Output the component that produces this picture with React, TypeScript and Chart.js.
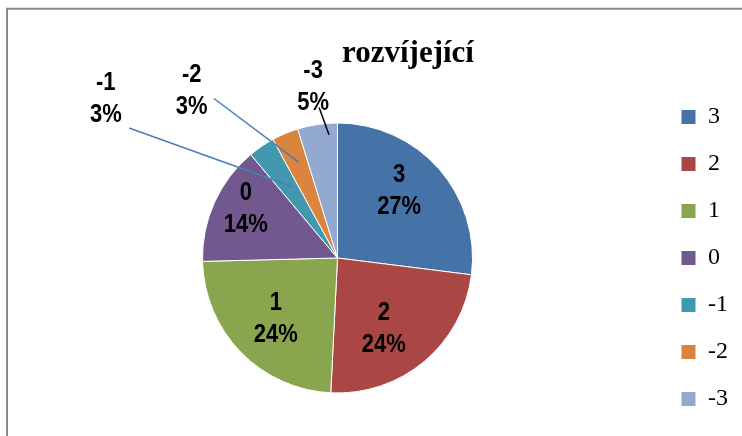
import { useEffect, useRef } from "react";
import { Chart, registerables } from "chart.js";

Chart.register(...registerables);

const TITLE = "rozvíjející";
const CATEGORIES = ["3", "2", "1", "0", "-1", "-2", "-3"];
const COUNTS = [17, 15, 15, 9, 2, 2, 3];
const COLORS = ["#4572A7", "#AA4643", "#89A54E", "#71588F", "#4198AF", "#DB843D", "#93A9CF"];

// label placement relative to each slice: fraction along the slice's angle span, distance in radii
const LABEL_FRAC = [0.439, 0.579, 0.495, 0.572, -1.365, -1.105, 0.527];
const LABEL_DIST = [0.674, 0.627, 0.643, 0.769, 2.08, 1.64, 1.281];
// leader lines: start offset from label centre, end point inside slice
const LEADERS: (null | { dx: number; dy: number; frac: number; dist: number; color: string })[] = [
  null,
  null,
  null,
  null,
  { dx: 23.3, dy: 28.7, frac: 0.7, dist: 0.62, color: "#4A7EBB" },
  { dx: 22.3, dy: 7.1, frac: 0.57, dist: 0.767, color: "#4A7EBB" },
  { dx: 6, dy: 20.8, frac: 0.77, dist: 0.916, color: "#000000" },
];

const framePlugin = {
  id: "frame",
  beforeDraw(chart: any) {
    const ctx = chart.ctx;
    ctx.save();
    ctx.fillStyle = "#ffffff";
    ctx.fillRect(0, 0, chart.width, chart.height);
    ctx.strokeStyle = "#8a8a8a";
    ctx.lineWidth = 2;
    ctx.strokeRect(7, 8.75, 800, 500);
    ctx.restore();
  },
};

const titlePlugin = {
  id: "customTitle",
  afterDraw(chart: any) {
    const ctx = chart.ctx;
    ctx.save();
    ctx.fillStyle = "#000";
    ctx.font = 'bold 31px "Liberation Serif", serif';
    ctx.textAlign = "center";
    ctx.textBaseline = "alphabetic";
    ctx.fillText(TITLE, 408, 62);
    ctx.restore();
  },
};

const labelPlugin = {
  id: "sliceLabels",
  afterDatasetsDraw(chart: any) {
    const ctx = chart.ctx;
    const meta = chart.getDatasetMeta(0);
    const data = chart.data.datasets[0].data as number[];
    const total = data.reduce((a, b) => a + b, 0);
    meta.data.forEach((arc: any, i: number) => {
      const { x, y, startAngle, endAngle, outerRadius } = arc.getProps(
        ["x", "y", "startAngle", "endAngle", "outerRadius"],
        true
      );
      const span = endAngle - startAngle;
      const a = startAngle + LABEL_FRAC[i] * span;
      const lx = x + Math.cos(a) * LABEL_DIST[i] * outerRadius;
      const ly = y + Math.sin(a) * LABEL_DIST[i] * outerRadius;
      const ld = LEADERS[i];
      if (ld) {
        const ea = startAngle + ld.frac * span;
        const ex = x + Math.cos(ea) * ld.dist * outerRadius;
        const ey = y + Math.sin(ea) * ld.dist * outerRadius;
        ctx.save();
        ctx.strokeStyle = ld.color;
        ctx.lineWidth = 1.5;
        ctx.beginPath();
        ctx.moveTo(lx + ld.dx, ly + ld.dy);
        ctx.lineTo(ex, ey);
        ctx.stroke();
        ctx.restore();
      }
      const pct = Math.round((data[i] / total) * 100) + "%";
      const lines = [CATEGORIES[i], pct];
      ctx.save();
      ctx.fillStyle = "#000";
      ctx.font = 'bold 25px "Liberation Sans", Arial, sans-serif';
      ctx.textAlign = "center";
      ctx.textBaseline = "middle";
      lines.forEach((t, k) => {
        ctx.save();
        ctx.translate(lx, ly + (k - 0.5) * 32);
        ctx.scale(0.88, 1);
        ctx.fillText(t, 0, 0);
        ctx.restore();
      });
      ctx.restore();
    });
  },
};

export default function App() {
  const ref = useRef<HTMLCanvasElement | null>(null);
  useEffect(() => {
    if (!ref.current) return;
    const chart = new Chart(ref.current, {
      type: "pie",
      data: {
        labels: CATEGORIES,
        datasets: [
          {
            data: COUNTS,
            backgroundColor: COLORS,
            borderColor: "#ffffff",
            borderWidth: 1,
            radius: 135,
          } as any,
        ],
      },
      options: {
        responsive: false,
        animation: false,
        layout: { padding: { top: 80, bottom: 0, left: 17, right: 4 } },
        plugins: {
          title: { display: false },
          tooltip: { enabled: false },
          legend: {
            position: "right",
            align: "center",
            labels: {
              boxWidth: 15,
              boxHeight: 15,
              padding: 23,
              color: "#000",
              font: { family: '"Liberation Serif", serif', size: 24 },
            },
          },
        },
      },
      plugins: [framePlugin, labelPlugin, titlePlugin],
    });
    return () => chart.destroy();
  }, []);
  return (
    <div style={{ position: "absolute", left: 0, top: 0, width: 742, height: 436 }}>
      <canvas ref={ref} width={742} height={436} style={{ display: "block" }} />
    </div>
  );
}
